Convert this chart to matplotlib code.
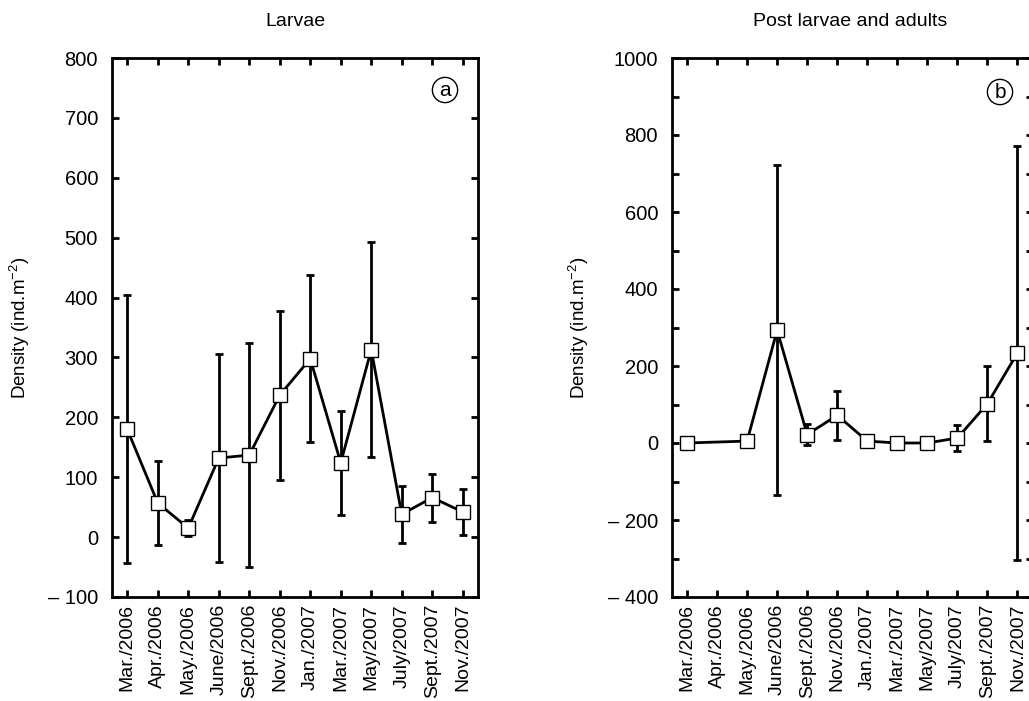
import numpy as np
import matplotlib
matplotlib.use("Agg")
import matplotlib.pyplot as plt
from matplotlib.ticker import FixedLocator, FixedFormatter

plt.rcParams['font.family'] = ['Liberation Sans', 'DejaVu Sans']
plt.rcParams['mathtext.fontset'] = 'custom'
plt.rcParams['mathtext.rm'] = 'Liberation Sans'
plt.rcParams['mathtext.it'] = 'Liberation Sans'

months = ["Mar./2006", "Apr./2006", "May./2006", "June/2006", "Sept./2006", "Nov./2006",
          "Jan./2007", "Mar./2007", "May/2007", "July/2007", "Sept./2007", "Nov./2007"]

# Larvae: mean density and standard deviation per sampling month
larvae_mean = [180, 57, 15, 132, 137, 237, 298, 124, 313, 38, 66, 42]
larvae_sd = [224, 70, 13, 173, 187, 141, 139, 87, 180, 48, 40, 38]

# Post larvae and adults (no sample in Apr./2006)
adult_idx = [0, 2, 3, 4, 5, 6, 7, 8, 9, 10, 11]
adult_mean = [0, 5, 293, 22, 72, 5, 0, 0, 13, 102, 234]
adult_sd = [0, 0, 429, 28, 63, 0, 0, 0, 33, 98, 538]

W, H = 1029, 701
fig = plt.figure(figsize=(W / 100, H / 100), dpi=100)
ax1 = fig.add_axes([112 / W, 1 - 597 / H, (478 - 112) / W, (597 - 58) / H])
ax2 = fig.add_axes([672 / W, 1 - 597 / H, (1032.5 - 672) / W, (597 - 58) / H])


def fmt(v):
    return ("\u2013 " + str(abs(v))) if v < 0 else str(v)


def style(ax, ylim, major, minor):
    ax.set_xlim(-0.5, len(months) - 0.5)
    ax.set_ylim(*ylim)
    ax.set_xticks(range(len(months)))
    ax.set_xticklabels(months, rotation=90, fontsize=14)
    ax.yaxis.set_major_locator(FixedLocator(major))
    ax.yaxis.set_major_formatter(FixedFormatter([fmt(v) for v in major]))
    ax.yaxis.set_minor_locator(FixedLocator(minor))
    ax.tick_params(axis='both', which='both', direction='in', length=5, width=2,
                   top=True, right=True)
    ax.tick_params(axis='y', labelsize=14.5, pad=10)
    ax.tick_params(axis='x', labelsize=14, pad=5)
    for s in ax.spines.values():
        s.set_linewidth(2)
    ax.set_ylabel(r"Density (ind.m$^{-2}$)", fontsize=13.5)


def draw(ax, x, y, e):
    ax.errorbar(x, y, yerr=e, fmt='none', ecolor='black', elinewidth=2,
                capsize=3, capthick=2, zorder=2)
    ax.plot(x, y, color='black', lw=2, marker='s', markersize=10,
            markerfacecolor='white', markeredgecolor='black', markeredgewidth=1,
            zorder=3)


draw(ax1, list(range(len(months))), larvae_mean, larvae_sd)
style(ax1, (-100, 800), list(range(-100, 801, 100)), [])
ax1.yaxis.set_label_coords(-0.218, 0.5)

draw(ax2, adult_idx, adult_mean, adult_sd)
style(ax2, (-400, 1000), list(range(-400, 1001, 200)), list(range(-300, 1000, 200)))
ax2.yaxis.set_label_coords(-0.225, 0.5)

fig.text(295 / W, 1 - 21 / H, "Larvae", ha='center', va='center', fontsize=14)
fig.text(850 / W, 1 - 21 / H, "Post larvae and adults", ha='center', va='center', fontsize=14)

for letter, px, py in (("a", 445, 90), ("b", 1000, 92)):
    fig.text(px / W, 1 - py / H, letter, ha='center', va='center', fontsize=15,
             bbox=dict(boxstyle='circle,pad=0.15', fc='white', ec='black', lw=1))

fig.savefig("out.png", dpi=100)
